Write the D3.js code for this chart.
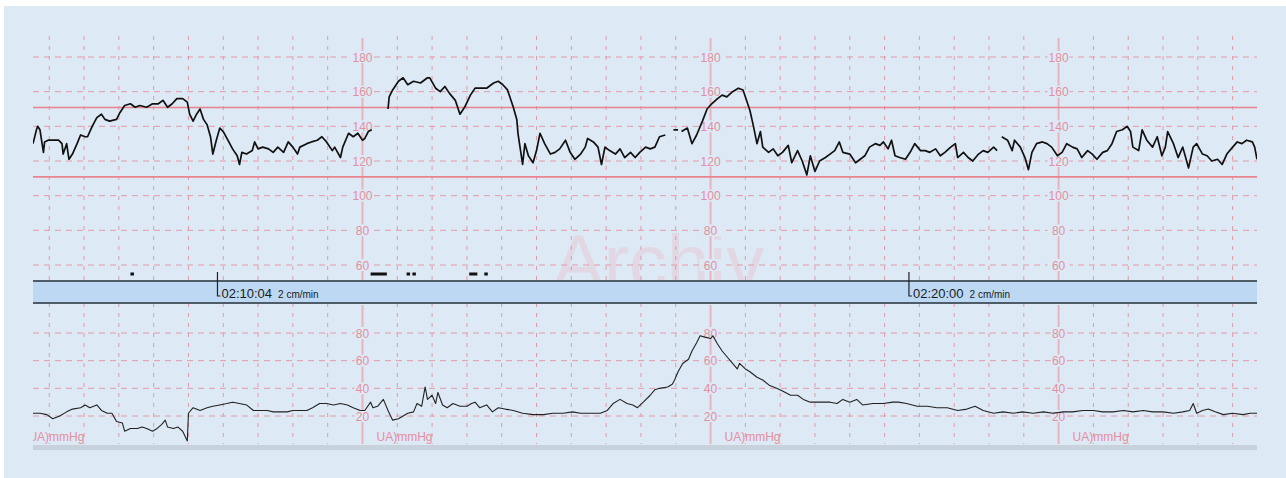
<!doctype html>
<html>
<head>
<meta charset="utf-8">
<style>
  body { margin: 0; background: #ffffff; }
  svg { display: block; font-family: "Liberation Sans", Arial, sans-serif; }
  .grid-minor { stroke: #e49aa8; stroke-width: 1; }
  .grid-major { stroke: #e9b3bd; stroke-width: 2; }
  .tick-label { fill: #e48f9f; font-size: 12px; }
</style>
<script src="https://d3js.org/d3.v7.min.js"></script>
</head>
<body>
<script>

// time = seconds since start of strip (02:07:25), paper speed 2 cm/min
var fhrSamples = [[0,130],[3,138],[4,140],[6,138],[9,125],[10,131],[13,132],[17,132],[22,132],[25,130],[26,124],[29,130],[31,121],[34,124],[38,130],[41,135],[45,134],[47,134],[51,140],[55,145],[59,147],[62,144],[66,143],[72,144],[75,148],[79,152],[84,153],[88,151],[92,152],[98,151],[103,153],[108,153],[112,155],[116,151],[120,153],[124,156],[129,156],[133,154],[135,147],[138,143],[141,147],[144,150],[147,144],[150,141],[153,134],[155,124],[158,132],[161,139],[164,137],[168,132],[172,127],[176,123],[178,118],[180,125],[184,124],[189,126],[191,131],[194,127],[198,128],[203,127],[207,125],[211,128],[216,125],[220,131],[224,128],[228,124],[230,128],[236,130],[240,131],[245,132],[249,134],[253,131],[258,126],[260,128],[265,122],[267,128],[272,136],[276,134],[280,136],[284,132],[286,133],[289,137],[292,138],[299,null],
  [306,150],[307,157],[310,161],[312,163],[315,166],[319,168],[323,164],[328,166],[334,165],[340,168],[342,168],[347,162],[351,160],[355,163],[359,159],[364,155],[368,147],[372,151],[377,158],[381,162],[385,162],[391,162],[397,165],[401,166],[405,164],[409,161],[414,151],[417,144],[418,136],[422,118],[424,130],[427,123],[431,119],[434,126],[437,136],[441,130],[446,124],[450,125],[454,127],[459,132],[463,125],[467,121],[472,124],[476,128],[478,133],[483,131],[487,128],[490,118],[493,128],[497,126],[502,124],[506,127],[510,122],[515,125],[519,122],[523,125],[528,128],[532,127],[536,128],[540,134],[545,135],[549,null],
  [552,138],[556,138],[557,null],
  [559,137],[564,139],[568,130],[572,135],[577,143],[581,150],[585,153],[590,156],[594,158],[598,157],[603,160],[608,162],[612,161],[615,155],[618,149],[621,140],[624,130],[627,137],[629,128],[634,125],[638,127],[642,123],[646,125],[651,129],[654,119],[659,126],[663,120],[667,112],[670,123],[674,114],[678,120],[683,122],[687,124],[691,126],[695,131],[698,125],[704,124],[709,119],[713,121],[717,123],[721,128],[726,130],[730,129],[733,131],[737,127],[740,132],[743,123],[747,122],[752,121],[756,125],[760,130],[765,126],[769,126],[773,125],[778,127],[782,123],[786,125],[791,128],[795,130],[797,122],[802,125],[806,122],[810,120],[815,124],[819,126],[823,125],[828,128],[831,126],[833,null],
  [835,134],[840,132],[844,126],[846,132],[851,128],[855,122],[858,115],[861,125],[865,130],[870,131],[874,130],[878,128],[883,123],[887,125],[891,130],[896,128],[900,127],[904,122],[909,126],[913,124],[917,121],[922,125],[926,126],[930,130],[934,137],[939,138],[943,140],[946,137],[948,128],[953,126],[956,138],[960,132],[965,128],[969,134],[973,123],[976,128],[978,137],[983,130],[987,122],[991,128],[996,116],[1000,128],[1003,130],[1008,124],[1012,123],[1016,120],[1021,121],[1025,118],[1029,124],[1034,128],[1038,131],[1042,130],[1046,132],[1051,131],[1053,128],[1055,121]];

var uaSamples = [[0,22],[6,22],[12,21],[17,18],[23,20],[29,23],[34,25],[41,26],[45,28],[49,26],[55,28],[59,24],[64,22],[68,22],[72,16],[77,15],[79,9],[84,11],[90,11],[94,12],[98,11],[103,9],[107,11],[111,14],[114,17],[116,12],[121,11],[125,12],[129,9],[133,2],[134,22],[138,26],[144,24],[150,26],[155,27],[161,28],[167,29],[172,30],[178,29],[184,28],[190,24],[196,24],[202,24],[207,23],[213,23],[219,23],[224,24],[230,24],[236,24],[241,26],[247,29],[253,29],[259,28],[265,29],[271,28],[276,26],[282,24],[286,24],[291,30],[293,26],[297,27],[302,32],[306,24],[310,17],[315,18],[319,20],[323,22],[328,23],[331,29],[335,27],[338,41],[340,32],[344,35],[347,29],[349,37],[353,28],[357,26],[362,29],[368,27],[374,27],[378,29],[381,30],[385,26],[391,28],[396,23],[401,26],[407,25],[414,24],[422,22],[431,21],[440,21],[448,22],[457,22],[465,23],[472,22],[480,22],[489,22],[495,24],[500,29],[506,32],[512,29],[517,28],[521,26],[526,30],[532,35],[536,39],[540,40],[547,41],[551,43],[553,46],[556,52],[560,58],[565,61],[568,67],[572,73],[575,78],[579,77],[584,76],[586,78],[590,72],[594,67],[598,63],[603,58],[607,54],[609,58],[614,54],[618,52],[624,48],[629,46],[635,42],[641,40],[646,38],[653,35],[659,35],[664,32],[670,30],[676,30],[681,30],[687,30],[693,29],[698,32],[704,30],[710,32],[715,28],[724,29],[733,29],[741,30],[746,30],[753,29],[762,27],[771,27],[779,26],[788,26],[797,24],[805,25],[812,27],[819,24],[828,22],[836,23],[845,22],[853,23],[862,22],[871,23],[879,22],[888,23],[896,23],[905,24],[914,24],[922,23],[931,23],[940,24],[948,23],[957,24],[965,23],[974,23],[983,22],[991,23],[997,24],[1000,29],[1003,22],[1008,24],[1013,25],[1019,23],[1026,21],[1034,22],[1043,21],[1049,22],[1055,22]];

var fhrTicks = [60, 80, 100, 120, 140, 160, 180];
var uaTicks = [20, 40, 60, 80];
var fhrLimits = [110, 150];
var stamps = [{t: 159, label: "02:10:04"}, {t: 755, label: "02:20:00"}];
var movements = [[84,87],[291,305],[322,325],[327,330],[376,383],[389,392]];
var uaLabel = "UA)mmHg";
var speedLabel = "2 cm/min";

var W = 1286, H = 478;
var left = 33, right = 1257;
var fhrTop = 36, bandTop = 281, bandBottom = 303, uaBottom = 444;

var svg = d3.select("body").append("svg").attr("width", W).attr("height", H);

svg.append("rect").attr("x", 4).attr("y", 6).attr("width", W - 4).attr("height", H - 6).attr("fill", "#dde9f5");

var x = d3.scaleLinear().domain([0, 1055]).range([left, right]);
var yF = d3.scaleLinear().domain([60, 180]).range([265, 57]);
var yU = d3.scaleLinear().domain([20, 80]).range([416, 333]);

// paper grid: 1 cm = 30 s, first line 14 s in, heavy line every 10 cm
var gridT = d3.range(14, 1055, 30);
var isMajor = function(t) { return (t - 284) % 300 === 0; };

svg.append("defs").append("clipPath").attr("id", "clip")
  .append("rect").attr("x", left).attr("y", 0).attr("width", right - left).attr("height", H);

var g = svg.append("g").attr("clip-path", "url(#clip)");

// watermark (sits behind the grid, partly under the band)
g.append("text")
  .attr("x", 553).attr("y", 288)
  .attr("font-size", "76px")
  .attr("fill", "#e8c9d3")
  .attr("opacity", 0.5)
  .text("Archiv");

[[fhrTop, bandTop], [bandBottom, uaBottom]].forEach(function(p) {
  g.selectAll(null).data(gridT.filter(function(t) { return !isMajor(t); }))
    .enter().append("line")
    .attr("class", "grid-minor")
    .attr("stroke-dasharray", "4,6")
    .attr("x1", function(d) { return x(d); }).attr("x2", function(d) { return x(d); })
    .attr("y1", p[0]).attr("y2", p[1]);
  g.selectAll(null).data(gridT.filter(isMajor))
    .enter().append("line")
    .attr("class", "grid-major")
    .attr("x1", function(d) { return x(d); }).attr("x2", function(d) { return x(d); })
    .attr("y1", p[0] + 2).attr("y2", p[1]);
});

g.selectAll(".hf").data(fhrTicks).enter().append("line")
  .attr("class", "grid-minor hf")
  .attr("stroke-dasharray", "6,5")
  .attr("x1", left).attr("x2", right)
  .attr("y1", function(d) { return yF(d); }).attr("y2", function(d) { return yF(d); });

g.selectAll(".hu").data(uaTicks).enter().append("line")
  .attr("class", "grid-minor hu")
  .attr("stroke-dasharray", "6,5")
  .attr("x1", left).attr("x2", right)
  .attr("y1", function(d) { return yU(d); }).attr("y2", function(d) { return yU(d); });

g.selectAll(".lim").data(fhrLimits).enter().append("line")
  .attr("class", "lim")
  .attr("stroke", "#e8848f").attr("stroke-width", 1.6)
  .attr("x1", left).attr("x2", right)
  .attr("y1", function(d) { return yF(d) - 1.5; }).attr("y2", function(d) { return yF(d) - 1.5; });

// scale numbers on the heavy lines
gridT.filter(isMajor).forEach(function(t) {
  fhrTicks.forEach(function(v) {
    g.append("rect").attr("x", x(t) - 11).attr("y", yF(v) - 6).attr("width", 22).attr("height", 12).attr("fill", "#dde9f5");
    g.append("text").attr("class", "tick-label")
      .attr("x", x(t)).attr("y", yF(v) + 4.5).attr("text-anchor", "middle").text(v);
  });
  uaTicks.forEach(function(v) {
    g.append("rect").attr("x", x(t) - 8).attr("y", yU(v) - 6).attr("width", 16).attr("height", 12).attr("fill", "#dde9f5");
    g.append("text").attr("class", "tick-label")
      .attr("x", x(t)).attr("y", yU(v) + 4.5).attr("text-anchor", "middle").text(v);
  });
});
d3.range(284 - 300, 1055, 300).forEach(function(t) {
  g.append("text").attr("class", "tick-label")
    .attr("x", x(t) + 14).attr("y", 441).attr("font-size", "11px").text(uaLabel);
});

// movement marks
g.selectAll(".mv").data(movements).enter().append("rect")
  .attr("x", function(d) { return x(d[0]); })
  .attr("width", function(d) { return x(d[1]) - x(d[0]); })
  .attr("y", 272.5).attr("height", 3).attr("fill", "#111");

// annotation band
g.append("rect").attr("x", left).attr("y", bandTop).attr("width", right - left).attr("height", bandBottom - bandTop)
  .attr("fill", "#bcd8f3");
g.append("line").attr("x1", left).attr("x2", right).attr("y1", bandTop).attr("y2", bandTop)
  .attr("stroke", "#4f5b66").attr("stroke-width", 2);
g.append("line").attr("x1", left).attr("x2", right).attr("y1", bandBottom).attr("y2", bandBottom)
  .attr("stroke", "#4f5b66").attr("stroke-width", 2);

stamps.forEach(function(s) {
  g.append("path")
    .attr("d", "M" + x(s.t) + ",272V296H" + (x(s.t) + 3))
    .attr("fill", "none").attr("stroke", "#222").attr("stroke-width", 1.2);
  var tx = g.append("text").attr("x", x(s.t) + 4).attr("y", 298).attr("fill", "#1b1b1b").attr("font-size", "13px");
  tx.append("tspan").text(s.label);
  tx.append("tspan").attr("dx", 6).attr("font-size", "10px").text(speedLabel);
});

// gray strip under UA
g.append("rect").attr("x", left).attr("y", 445).attr("width", right - left).attr("height", 5).attr("fill", "#c8d2dc");

var lineF = d3.line().defined(function(d) { return d[1] != null; })
  .x(function(d) { return x(d[0]); }).y(function(d) { return yF(d[1]); });
var lineU = d3.line()
  .x(function(d) { return x(d[0]); }).y(function(d) { return yU(d[1]); });

g.append("path").datum(fhrSamples).attr("d", lineF)
  .attr("fill", "none").attr("stroke", "#111").attr("stroke-width", 1.7).attr("stroke-linejoin", "round");
g.append("path").datum(uaSamples).attr("d", lineU)
  .attr("fill", "none").attr("stroke", "#222").attr("stroke-width", 1.1).attr("stroke-linejoin", "round");

</script>
</body>
</html>
